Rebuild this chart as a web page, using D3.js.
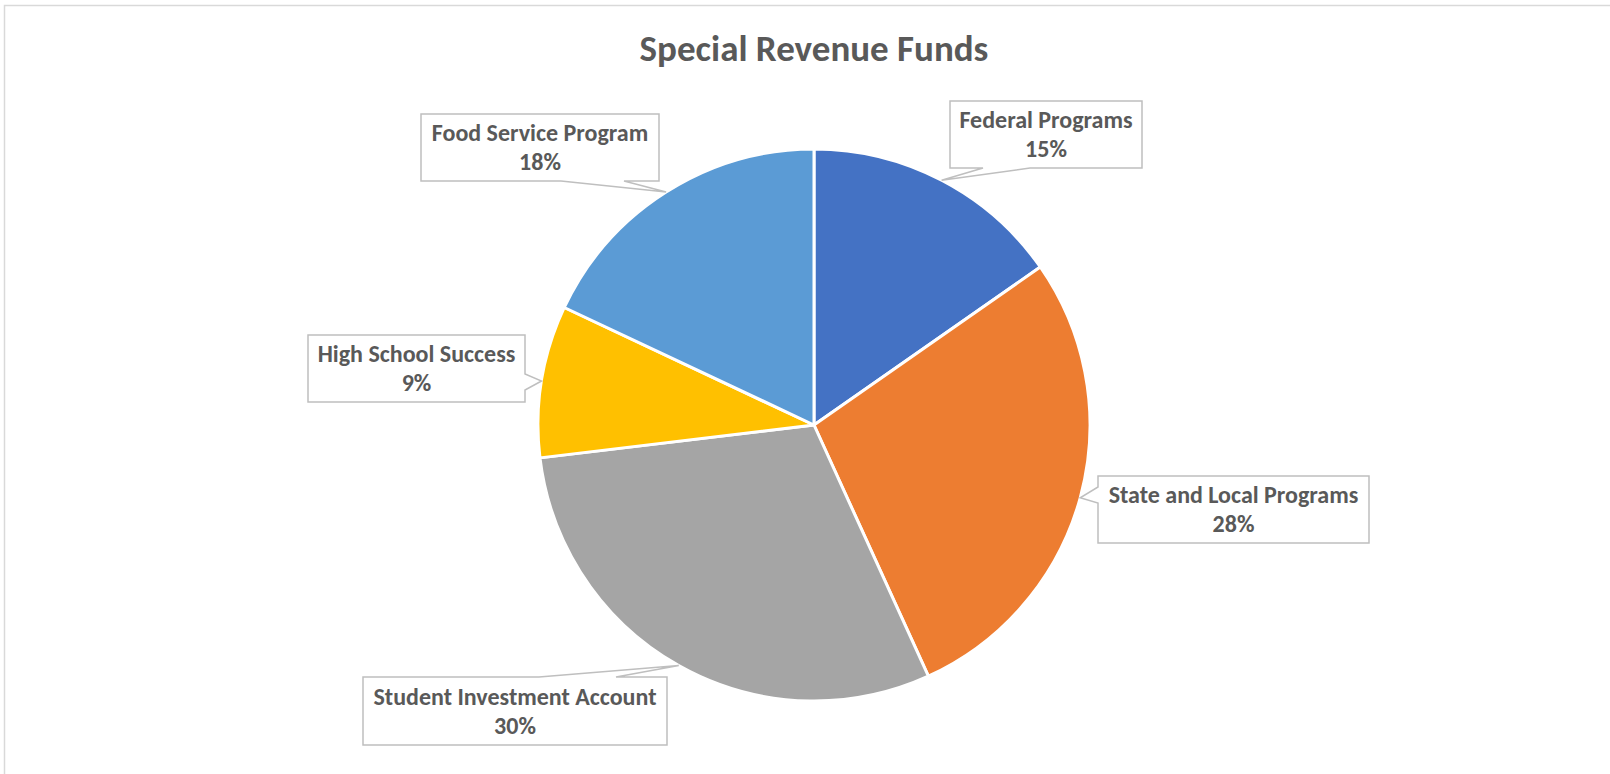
<!DOCTYPE html>
<html>
<head>
<meta charset="utf-8">
<script src="https://cdn.jsdelivr.net/npm/d3@7"></script>
<style>
  html, body { margin: 0; padding: 0; background: #fff; }
  svg { display: block; }
  text { font-family: Carlito, Calibri, Lato, "DejaVu Sans", sans-serif; font-weight: bold; fill: #595959; }
</style>
</head>
<body>
<div id="chart"></div>
<script>
  // data (clockwise from 12 o'clock)
  const categories = ['Federal Programs', 'State and Local Programs', 'Student Investment Account', 'High School Success', 'Food Service Program'];
  const shares = [15.3, 27.9, 29.9, 8.9, 18.0];
  const pctLabels = ['15%', '28%', '30%', '9%', '18%'];
  const sliceColors = ['#4472C4', '#ED7D31', '#A5A5A5', '#FFC000', '#5B9BD5'];

  // callout boxes: x, y, w, h, wedge side and the two base points along that side
  const callouts = [
    {x: 950, y: 101, w: 192, h: 67, side: 'bottom', b0: 983, b1: 1030},
    {x: 1098, y: 476, w: 271, h: 67, side: 'left', b0: 487, b1: 503},
    {x: 363, y: 677, w: 304, h: 68, side: 'top', b0: 539, b1: 616},
    {x: 308, y: 335, w: 217, h: 67, side: 'right', b0: 374, b1: 390},
    {x: 421, y: 114, w: 238, h: 67, side: 'bottom', b0: 561, b1: 624},
  ];

  const width = 1610, height = 774;
  const cx = 814, cy = 425, radius = 276;

  const svg = d3.select('#chart')
    .append('svg')
    .attr('width', width)
    .attr('height', height);

  // chart area border (only top and left fall inside the window)
  svg.append('rect')
    .attr('x', 4.5).attr('y', 5.5)
    .attr('width', width + 10).attr('height', height + 10)
    .attr('fill', 'none')
    .attr('stroke', '#D9D9D9')
    .attr('stroke-width', 1.5);

  svg.append('text')
    .attr('x', cx)
    .attr('y', 61)
    .attr('text-anchor', 'middle')
    .style('font-size', '37px')
    .text('Special Revenue Funds');

  const pie = d3.pie().sort(null).value(d => d);
  const arcs = pie(shares);

  const arcGen = d3.arc().innerRadius(0).outerRadius(radius);

  const g = svg.append('g').attr('transform', `translate(${cx},${cy})`);

  g.selectAll('path')
    .data(arcs)
    .join('path')
      .attr('d', arcGen)
      .attr('fill', (d, i) => sliceColors[i])
      .attr('stroke', '#fff')
      .attr('stroke-width', 3)
      .attr('stroke-linejoin', 'round');

  // tip of each callout sits on the rim at the slice's middle angle
  const tipOf = d => {
    const a = (d.startAngle + d.endAngle) / 2;
    return [cx + Math.sin(a) * radius, cy - Math.cos(a) * radius];
  };

  const calloutPath = (c, tip) => {
    const x0 = c.x, y0 = c.y, x1 = c.x + c.w, y1 = c.y + c.h;
    const p = d3.path();
    p.moveTo(x0, y0);
    if (c.side === 'top') { p.lineTo(c.b0, y0); p.lineTo(tip[0], tip[1]); p.lineTo(c.b1, y0); }
    p.lineTo(x1, y0);
    if (c.side === 'right') { p.lineTo(x1, c.b0); p.lineTo(tip[0], tip[1]); p.lineTo(x1, c.b1); }
    p.lineTo(x1, y1);
    if (c.side === 'bottom') { p.lineTo(c.b1, y1); p.lineTo(tip[0], tip[1]); p.lineTo(c.b0, y1); }
    p.lineTo(x0, y1);
    if (c.side === 'left') { p.lineTo(x0, c.b1); p.lineTo(tip[0], tip[1]); p.lineTo(x0, c.b0); }
    p.closePath();
    return p.toString();
  };

  const labels = svg.append('g').attr('class', 'labels')
    .selectAll('g')
    .data(arcs)
    .join('g');

  labels.append('path')
    .attr('d', (d, i) => calloutPath(callouts[i], tipOf(d)))
    .attr('fill', '#fff')
    .attr('stroke', '#BFBFBF')
    .attr('stroke-width', 1.5)
    .attr('stroke-linejoin', 'miter');

  labels.append('text')
    .attr('x', (d, i) => callouts[i].x + callouts[i].w / 2)
    .attr('y', (d, i) => callouts[i].y + callouts[i].h / 2 - 6.5)
    .attr('text-anchor', 'middle')
    .style('font-size', '24px')
    .text((d, i) => categories[i]);

  labels.append('text')
    .attr('x', (d, i) => callouts[i].x + callouts[i].w / 2)
    .attr('y', (d, i) => callouts[i].y + callouts[i].h / 2 + 22.5)
    .attr('text-anchor', 'middle')
    .style('font-size', '24px')
    .text((d, i) => pctLabels[i]);
</script>
</body>
</html>
